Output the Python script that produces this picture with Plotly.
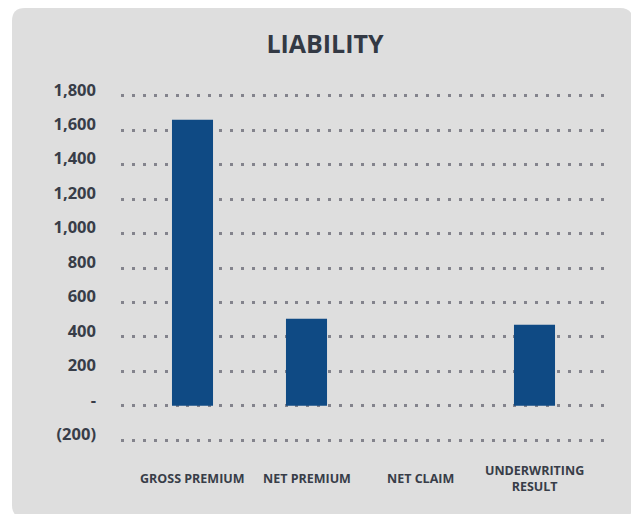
import plotly.graph_objects as go

# Liability figures (in millions)
categories = ["GROSS PREMIUM", "NET PREMIUM", "NET CLAIM", "UNDERWRITING<br>RESULT"]
values = [1660, 505, 0, 470]

tick_vals = [-200, 0, 200, 400, 600, 800, 1000, 1200, 1400, 1600, 1800]
tick_text = ["(200)", "-", "200", "400", "600", "800", "1,000", "1,200", "1,400", "1,600", "1,800"]

W, H = 631, 514
M_L, M_R, M_T, M_B = 121, 25, 94, 72
PLOT_W = W - M_L - M_R
PLOT_H = H - M_T - M_B

BAR = "#0f4a84"
TEXT = "#383d48"
GRID = "#83838c"
FONT = "Open Sans"


def px_x(x):
    return (x - M_L) / PLOT_W


def px_y(y):
    return (H - M_B - y) / PLOT_H


def rounded_rect(x0, y0, x1, y1, r):
    """Rounded rectangle path (pixel input) in paper coordinates."""
    pts = [
        ("M", px_x(x0 + r), px_y(y0)),
        ("L", px_x(x1 - r), px_y(y0)),
        ("Q", px_x(x1), px_y(y0), px_x(x1), px_y(y0 + r)),
        ("L", px_x(x1), px_y(y1 - r)),
        ("Q", px_x(x1), px_y(y1), px_x(x1 - r), px_y(y1)),
        ("L", px_x(x0 + r), px_y(y1)),
        ("Q", px_x(x0), px_y(y1), px_x(x0), px_y(y1 - r)),
        ("L", px_x(x0), px_y(y0 + r)),
        ("Q", px_x(x0), px_y(y0), px_x(x0 + r), px_y(y0)),
    ]
    out = []
    for p in pts:
        cmd, coords = p[0], p[1:]
        out.append(cmd + " " + " ".join(
            f"{coords[i]:.5f},{coords[i + 1]:.5f}" for i in range(0, len(coords), 2)))
    return " ".join(out) + " Z"


fig = go.Figure()
fig.add_trace(go.Bar(
    x=list(range(len(categories))),
    y=values,
    width=0.36,
    marker=dict(color=BAR, line=dict(width=0)),
    hoverinfo="skip",
))

# Card background
fig.add_shape(
    type="path", xref="paper", yref="paper", layer="below",
    path=rounded_rect(12, 8, 633, 518, 13),
    fillcolor="#dedede", line=dict(width=0),
)

# Category labels, vertically centred below the axis
for i, name in enumerate(categories):
    fig.add_annotation(
        x=i, y=px_y(478), xref="x", yref="paper",
        text=name, showarrow=False, align="center",
        xanchor="center", yanchor="middle",
        font=dict(family=FONT, size=12.5, color=TEXT, weight="bold"),
    )

fig.update_layout(
    width=W, height=H,
    margin=dict(l=M_L, r=M_R, t=M_T, b=M_B, pad=0),
    paper_bgcolor="white",
    plot_bgcolor="rgba(0,0,0,0)",
    showlegend=False,
    title=dict(
        text="LIABILITY",
        x=325 / W, xref="container", xanchor="center",
        y=1 - 44 / H, yref="container", yanchor="middle",
        font=dict(family=FONT, size=25, color="#333944", weight="bold"),
    ),
    xaxis=dict(
        range=[-(192.5 - M_L) / 114, 3 + (M_L + PLOT_W - 534.5) / 114],
        showticklabels=False, showgrid=False, zeroline=False,
        showline=False, ticks="", fixedrange=True,
    ),
    yaxis=dict(
        range=[-210, 1810],
        tickvals=tick_vals, ticktext=tick_text,
        showgrid=True, gridcolor=GRID, gridwidth=3, griddash="3px,7.9px",
        zeroline=False, showline=False, ticks="",
        ticklabelstandoff=24, ticklabelshift=-6,
        tickfont=dict(family=FONT, size=16.5, color=TEXT, weight="bold"),
        fixedrange=True,
    ),
)

fig.write_html("out.html")
